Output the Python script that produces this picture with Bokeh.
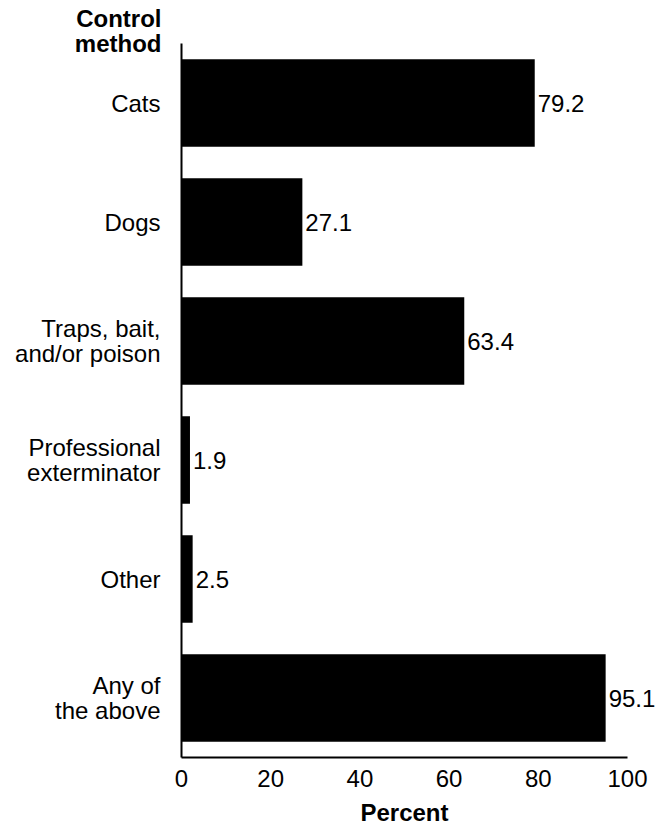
from bokeh.plotting import figure
from bokeh.models import ColumnDataSource, Range1d
from bokeh.core.properties import value
from bokeh.embed import file_html
from bokeh.resources import INLINE

categories = ["Cats", "Dogs", "Traps, bait,\nand/or poison", "Professional\nexterminator", "Other", "Any of\nthe above"]
values = [79.2, 27.1, 63.4, 1.9, 2.5, 95.1]
value_labels = ["79.2", "27.1", "63.4", "1.9", "2.5", "95.1"]
x_ticks = [0, 20, 40, 60, 80, 100]
x_tick_labels = ["0", "20", "40", "60", "80", "100"]
axis_title_y = "Control\nmethod"
axis_title_x = "Percent"

FONT = "Liberation Sans"
FS = "24px"

n = len(categories)
ypos = list(range(n - 1, -1, -1))  # first category at top
src = ColumnDataSource(dict(cat=categories, val=values, lab=value_labels, y=ypos))
tick_src = ColumnDataSource(dict(x=x_ticks, lab=x_tick_labels, y=[-0.5] * len(x_ticks)))

W, H = 657, 828
x0_px, px_per_unit = 181, 4.46
y_unit_px = 119
top_extra = 43 / y_unit_px
bottom_extra = (H - 757) / y_unit_px

p = figure(width=W, height=H, output_backend="svg", toolbar_location=None,
           x_range=Range1d(-x0_px / px_per_unit, (W - x0_px) / px_per_unit),
           y_range=Range1d(-0.5 - bottom_extra, n - 0.5 + top_extra),
           x_axis_location=None, y_axis_location=None,
           min_border=0, min_border_left=0, min_border_right=0,
           min_border_top=0, min_border_bottom=0)

p.hbar(y="y", right="val", left=0, height=0.735, source=src, fill_color="black", line_color=None)

# axis lines
p.segment(x0=0, x1=0, y0=-0.5, y1=n - 0.5, line_color="black", line_width=2)
p.segment(x0=x_ticks[0], x1=x_ticks[-1], y0=-0.5, y1=-0.5, line_color="black", line_width=2)

# category labels
p.text(x=0, y="y", text="cat", source=src, x_offset=-21,
       text_align="right", text_baseline="middle", text_line_height=0.93,
       text_font=value(FONT), text_font_size=FS, text_color="black")

# value labels
p.text(x="val", y="y", text="lab", source=src, x_offset=3,
       text_align="left", text_baseline="middle",
       text_font=value(FONT), text_font_size=FS, text_color="black")

# x tick labels
p.text(x="x", y="y", text="lab", source=tick_src, y_offset=12,
       text_align="center", text_baseline="top",
       text_font=value(FONT), text_font_size=FS, text_color="black")

# x axis title, centred on the axis extent
p.text(x=[(x_ticks[0] + x_ticks[-1]) / 2], y=[-0.5], text=[axis_title_x], y_offset=41,
       text_align="center", text_baseline="top",
       text_font=value(FONT), text_font_size=FS, text_font_style="bold", text_color="black")

# y axis title
p.text(x=[0], y=[n - 0.5 + top_extra], text=[axis_title_y], x_offset=-20, y_offset=4,
       text_align="right", text_baseline="top", text_line_height=0.93,
       text_font=value(FONT), text_font_size=FS, text_font_style="bold", text_color="black")

p.grid.visible = False
p.outline_line_color = None
p.background_fill_color = "white"
p.border_fill_color = "white"

open("out.html", "w").write(file_html(p, INLINE))
